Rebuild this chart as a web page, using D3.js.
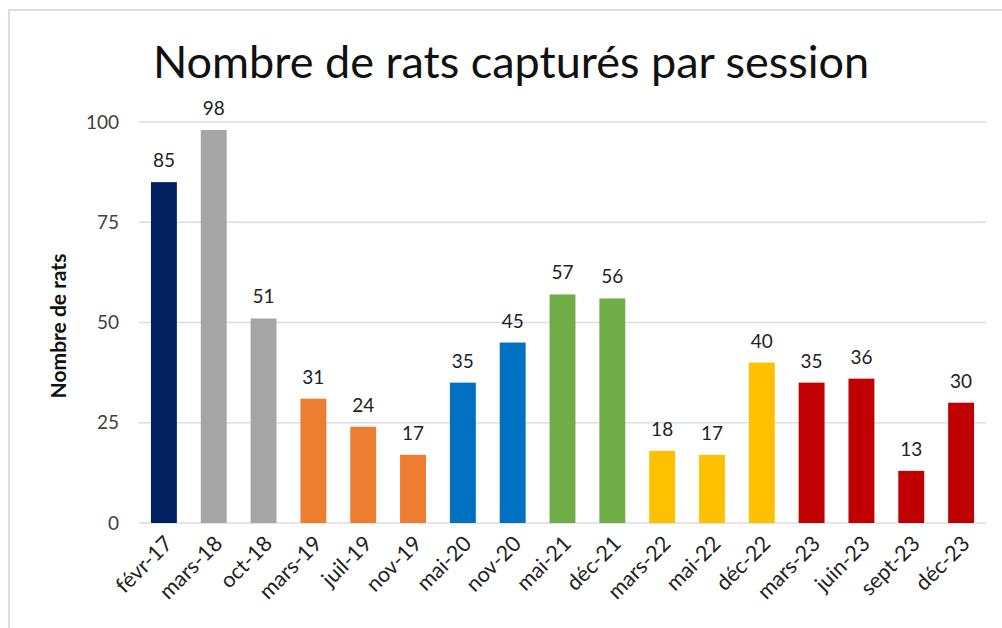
<!DOCTYPE html>
<html><head><meta charset="utf-8">
<script src="https://cdn.jsdelivr.net/npm/d3@7"></script>
<style>
html,body{margin:0;padding:0;background:#fff;}
svg{display:block;font-family:Lato,"Open Sans",sans-serif;}
</style></head>
<body>
<svg id="chart" width="1002" height="628"></svg>
<script>
const categories = ["févr-17","mars-18","oct-18","mars-19","juil-19","nov-19","mai-20","nov-20","mai-21","déc-21","mars-22","mai-22","déc-22","mars-23","juin-23","sept-23","déc-23"];
const values = [85,98,51,31,24,17,35,45,57,56,18,17,40,35,36,13,30];
const barColors = ["#002060","#A5A5A5","#A5A5A5","#ED7D31","#ED7D31","#ED7D31","#0070C0","#0070C0","#70AD47","#70AD47","#FFC000","#FFC000","#FFC000","#C00000","#C00000","#C00000","#C00000"];
const yTicks = [0,25,50,75,100];
const title = "Nombre de rats capturés par session";
const yLabel = "Nombre de rats";

(function(){
const svg = d3.select("#chart");
// outer frame
svg.append("rect").attr("x",9).attr("y",10).attr("width",1010).attr("height",640)
  .attr("fill","none").attr("stroke","#D9DEE6").attr("stroke-width",2);

const pL = 139, pR = 986, pT = 122, pB = 523;
const x = d3.scaleBand().domain(categories).range([pL,pR]).paddingInner(0.48).paddingOuter(0.24);
const y = d3.scaleLinear().domain([0,100]).range([pB,pT]);

// gridlines
svg.append("g").selectAll("line").data(yTicks).join("line")
  .attr("x1",pL).attr("x2",pR)
  .attr("y1",d=>y(d)).attr("y2",d=>y(d))
  .attr("stroke","#D9DEE6").attr("stroke-width",1.5);

// y axis
const yAxis = svg.append("g").attr("transform",`translate(${pL},0)`)
  .call(d3.axisLeft(y).tickValues(yTicks).tickSize(0).tickPadding(20));
yAxis.select(".domain").remove();
yAxis.selectAll("text").attr("font-size",19).attr("fill","#404040").attr("font-family","Lato,'Open Sans',sans-serif");

// x axis
const xAxis = svg.append("g").attr("transform",`translate(0,${pB})`)
  .call(d3.axisBottom(x).tickSize(0).tickPadding(0));
xAxis.select(".domain").remove();
xAxis.selectAll("text")
  .attr("font-size",21.5).attr("fill","#222").attr("font-family","Lato,'Open Sans',sans-serif")
  .attr("text-anchor","end").attr("dy",0)
  .attr("transform","translate(10,22) rotate(-45)");

// bars
svg.append("g").selectAll("rect").data(values).join("rect")
  .attr("x",(d,i)=>x(categories[i]))
  .attr("width",x.bandwidth())
  .attr("y",d=>y(d))
  .attr("height",d=>y(0)-y(d))
  .attr("fill",(d,i)=>barColors[i]);

// data labels
svg.append("g").selectAll("text").data(values).join("text")
  .attr("x",(d,i)=>x(categories[i])+x.bandwidth()/2)
  .attr("y",d=>y(d)-15)
  .attr("text-anchor","middle")
  .attr("font-size",19).attr("fill","#222")
  .text(d=>d);

// title
svg.append("text").attr("x",511).attr("y",78).attr("text-anchor","middle")
  .attr("font-size",45).attr("fill","#111").text(title);

// y label
svg.append("text").attr("transform","translate(66,326) rotate(-90)")
  .attr("text-anchor","middle").attr("font-size",21).attr("font-weight","bold")
  .attr("fill","#111").text(yLabel);
})();
</script>
</body></html>
